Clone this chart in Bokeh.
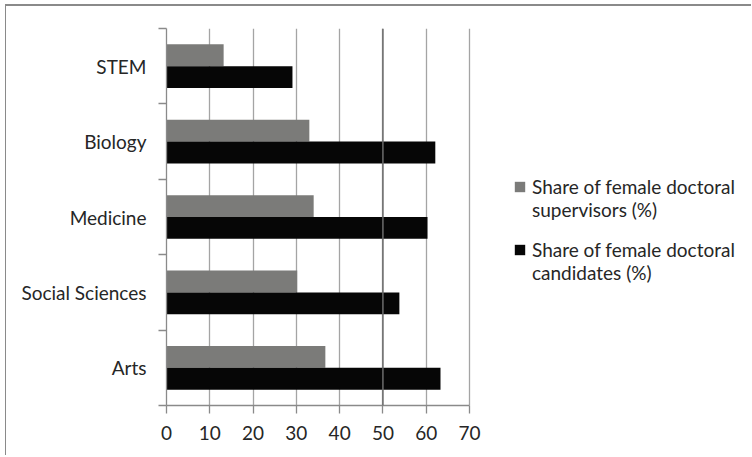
from bokeh.plotting import figure
from bokeh.models import FixedTicker, Legend, LegendItem, Range1d, Span
from bokeh.embed import file_html
from bokeh.resources import INLINE

categories = ["STEM", "Biology", "Medicine", "Social Sciences", "Arts"]
supervisors = [13.2, 33.0, 34.0, 30.2, 36.7]
candidates = [29.1, 62.1, 60.3, 53.8, 63.3]
x_ticks = [0, 10, 20, 30, 40, 50, 60, 70]
series_line1 = ["Share of female doctoral", "Share of female doctoral"]
series_line2 = ["supervisors (%)", "candidates (%)"]
highlight_x = 50

FONT = "Lato"
TXT = "#262626"
n = len(categories)
centers = [n - i - 0.5 for i in range(n)]
boundaries = list(range(n + 1))

W, H = 746, 451
LEFT, TOP, BOTTOM = 160, 22, 52
AXIS_PX = 303  # pixel length of the 0..70 axis
frame_w = W - LEFT
x_end = x_ticks[-1] * frame_w / AXIS_PX

p = figure(width=W, height=H, output_backend="svg", toolbar_location=None,
           x_range=Range1d(0, x_end), y_range=Range1d(0, n),
           min_border_left=LEFT, min_border_right=0, min_border_top=TOP, min_border_bottom=BOTTOM,
           outline_line_color=None,
           styles={"margin-left": "5px", "margin-top": "4px",
                   "border-top": "2px solid #8a8a8a", "border-left": "1px solid #8a8a8a"})

p.xgrid.ticker = FixedTicker(ticks=x_ticks)
p.xgrid.grid_line_color = "#a4a4a4"
p.xgrid.grid_line_width = 1.3
p.ygrid.grid_line_color = None

g1 = p.hbar(y=[c + 0.145 for c in centers], left=0, right=supervisors, height=0.29,
            fill_color="#7b7b79", line_color=None)
g2 = p.hbar(y=[c - 0.145 for c in centers], left=0, right=candidates, height=0.29,
            fill_color="#060606", line_color=None)
blank = p.hbar(y=[], left=[], right=[], height=0.29, fill_alpha=0, line_alpha=0)

p.add_layout(Span(location=highlight_x, dimension="height", line_color="#6c6c6c", line_width=1.5))

# x axis
xa = p.xaxis[0]
xa.bounds = (x_ticks[0], x_ticks[-1])
xa.ticker = FixedTicker(ticks=x_ticks, minor_ticks=[])
xa.axis_line_color = "#8a8a8a"
xa.axis_line_width = 1.3
xa.major_tick_line_color = "#8a8a8a"
xa.major_tick_line_width = 1.3
xa.major_tick_out = 8
xa.major_tick_in = 0
xa.minor_tick_line_color = None
xa.major_label_text_font = FONT
xa.major_label_text_font_size = "19px"
xa.major_label_text_color = TXT
xa.major_label_standoff = 12

# y axis
ya = p.yaxis[0]
ya.ticker = FixedTicker(ticks=centers, minor_ticks=boundaries)
ya.major_label_overrides = {c: name for c, name in zip(centers, categories)}
ya.axis_line_color = "#8a8a8a"
ya.axis_line_width = 1.3
ya.major_tick_line_color = None
ya.major_tick_out = 0
ya.major_tick_in = 0
ya.minor_tick_line_color = "#8a8a8a"
ya.minor_tick_line_width = 1.3
ya.minor_tick_out = 8
ya.minor_tick_in = 0
ya.major_label_text_font = FONT
ya.major_label_text_font_size = "19px"
ya.major_label_text_color = TXT
ya.major_label_standoff = 12

for renderer, l1, l2, ypos in [(g1, series_line1[0], series_line2[0], 184),
                               (g2, series_line1[1], series_line2[1], 121)]:
    lg = Legend(items=[LegendItem(label=l1, renderers=[renderer]),
                       LegendItem(label=l2, renderers=[blank])],
                location=(347, ypos), orientation="vertical",
                padding=0, margin=0, spacing=0, label_height=22,
                glyph_width=13, glyph_height=13, label_standoff=6,
                label_text_font=FONT, label_text_font_size="19px",
                label_text_color=TXT,
                border_line_color=None, background_fill_alpha=0)
    p.add_layout(lg, "center")

open("out.html", "w").write(file_html(p, INLINE))
